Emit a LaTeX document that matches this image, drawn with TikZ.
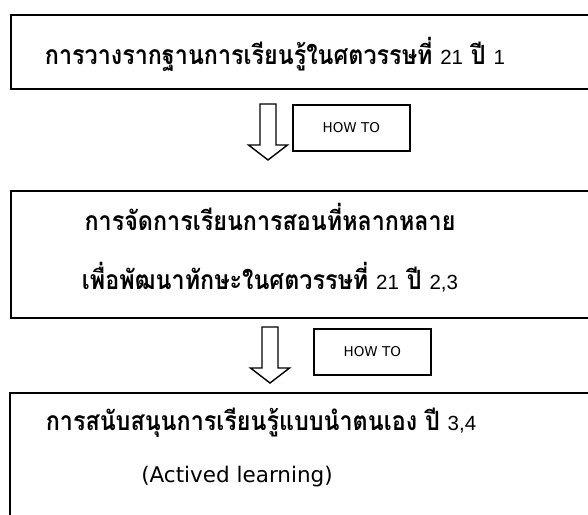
\documentclass[tikz,border=0pt]{standalone}
\usepackage{fontspec}
\newfontfamily\thaifont[Script=Thai, FakeStretch=0.88]{Loma}
\newfontfamily\digitfont{Liberation Sans}
\newfontfamily\howfont{DejaVu Sans}
\newcommand\dg[1]{{\digitfont\mdseries\fontsize{20.5}{24}\selectfont #1}}
\usetikzlibrary{positioning}

\tikzset{
  stage/.style={draw, line width=1.8pt, anchor=north west, minimum width=600pt, inner sep=0pt},
  howto/.style={draw, line width=1.6pt, anchor=north west, minimum width=117pt, minimum height=46pt, inner sep=0pt, font=\howfont\fontsize{13.5}{16}\selectfont},
  thai/.style={anchor=base, inner sep=0pt, font=\thaifont\bfseries\fontsize{26.5}{32}\selectfont},
  hollow/.style={draw, line width=1.4pt, line join=miter, fill=white},
  pics/downarrow/.style={code={
    \draw[hollow] (-8,0) -- (-8,41) -- (-19.5,41) -- (0,56) -- (19.5,41) -- (8,41) -- (8,0) -- cycle;
  }}
}

\begin{document}
\begin{tikzpicture}[x=1pt, y=-1pt]
\useasboundingbox (0,0) rectangle (588,514);
\clip (0,0) rectangle (588,514);
% stages
\node[stage, minimum height=74pt] (box1) at (10,14) {};
\node[stage, minimum height=127pt] (box2) at (10,190) {};
\node[stage, minimum height=140pt] (box3) at (9,392) {};
% texts
\node[thai] (t1) at (275,64) {การวางรากฐานการเรียนรู้ในศตวรรษที่ \dg{21} ปี \dg{1}};
\node[thai] (t2a) at (270,230) {การจัดการเรียนการสอนที่หลากหลาย};
\node[thai] (t2b) at (270,289) {เพื่อพัฒนาทักษะในศตวรรษที่ \dg{21} ปี \dg{2,3}};
\node[thai] (t3a) at (261,430) {การสนับสนุนการเรียนรู้แบบนำตนเอง ปี \dg{3,4}};
\node[anchor=base, inner sep=0pt, font=\howfont\fontsize{21.5}{26}\selectfont] (t3b) at (237,482) {(Actived learning)};
% how to
\pic at (268,104) {downarrow};
\node[howto] (how1) at (292,104) {HOW TO};
\pic at (270,327) {downarrow};
\node[howto] (how2) at (313,328) {HOW TO};
\end{tikzpicture}
\end{document}
